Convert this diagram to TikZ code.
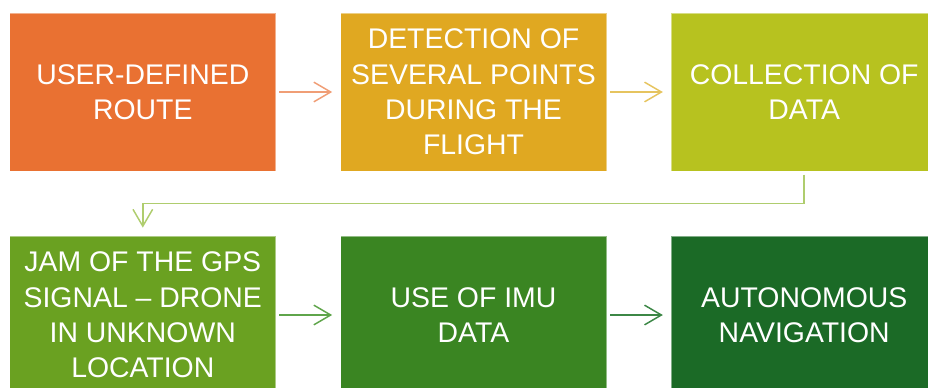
\documentclass[tikz,border=0pt]{standalone}
\usepackage{fontspec}
\setmainfont{Liberation Sans}
\usepackage{tikz}
\usetikzlibrary{positioning,arrows.meta,calc}
\definecolor{routeorange}{RGB}{233,113,50}
\definecolor{detectgold}{RGB}{224,168,33}
\definecolor{collectlime}{RGB}{183,194,31}
\definecolor{jamgreen}{RGB}{106,161,33}
\definecolor{imugreen}{RGB}{58,133,34}
\definecolor{navgreen}{RGB}{27,106,38}
\definecolor{arroworange}{RGB}{240,158,118}
\definecolor{arrowgold}{RGB}{230,196,95}
\definecolor{arrowlime}{RGB}{175,205,110}
\definecolor{arrowgreen}{RGB}{95,165,75}
\definecolor{arrowdark}{RGB}{60,135,70}

\begin{document}
\begin{tikzpicture}[
    stagebox/.style={minimum width=6.65cm, minimum height=3.95cm, inner sep=0pt,
      draw=white, draw opacity=0.45, line width=0.5pt, text=white, align=center,
      font=\fontsize{20.2}{25.2}\selectfont},
    flow/.style={line width=1.05pt, -{Straight Barb[length=12pt,width=14pt]},
      shorten <=0.08cm, shorten >=0.2cm},
    node distance=1.6cm
  ]
  \clip (0,0) rectangle (23.2,-9.7);

  \node[stagebox, fill=routeorange] (route) at (3.57,-2.3) {USER-DEFINED\\ROUTE};
  \node[stagebox, fill=detectgold, right=of route] (detect)
    {DETECTION OF\\SEVERAL POINTS\\DURING THE\\FLIGHT};
  \node[stagebox, fill=collectlime, right=of detect] (collect) {COLLECTION OF\\DATA};

  \node[stagebox, fill=jamgreen] (jam) at (3.57,-7.875)
    {JAM OF THE GPS\\SIGNAL -- DRONE\\IN UNKNOWN\\LOCATION};
  \node[stagebox, fill=imugreen, right=of jam] (imu) {USE OF IMU\\DATA};
  \node[stagebox, fill=navgreen, right=of imu] (nav) {AUTONOMOUS\\NAVIGATION};

  \draw[flow, arroworange] (route) -- (detect);
  \draw[flow, arrowgold] (detect) -- (collect);
  \draw[flow, arrowlime] (collect.south) -- ++(0,-0.8) -| (jam.north);
  \draw[flow, arrowgreen] (jam) -- (imu);
  \draw[flow, arrowdark] (imu) -- (nav);
\end{tikzpicture}
\end{document}
